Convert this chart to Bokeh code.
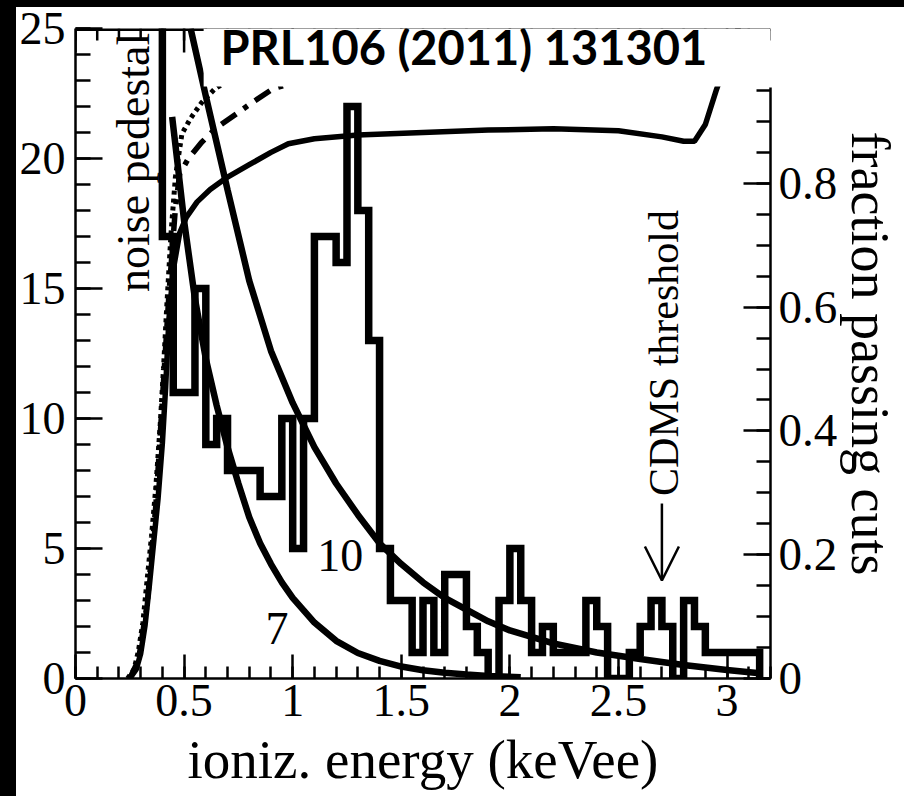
import math
from bokeh.plotting import figure
from bokeh.models import (Range1d, LinearAxis, FixedTicker, Label, Arrow, OpenHead,
                          BoxAnnotation, Div)
from bokeh.layouts import column, row
from bokeh.embed import file_html
from bokeh.resources import INLINE

# ---------------- data ----------------
# histogram of events, 0.05 keVee bins starting at 0.35 keVee
hist_start = 0.35
bin_width = 0.05
# first bin = noise pedestal (off scale)
counts = [40, 17, 11, 11, 15, 9, 10, 8, 8, 8, 7, 7, 10, 5, 10, 17, 17, 16, 22, 18, 13,
          5, 3, 3, 1, 3, 1, 4, 4, 2, 1, 0, 3, 5, 3, 1, 2, 1, 1, 1, 3, 2, 0, 0, 1, 2, 3,
          2, 0, 3, 2, 1, 1, 1, 1, 1]

# expected WIMP spectra (7 and 10 GeV) - left axis
c7_x = [0.445, 0.47, 0.50, 0.55, 0.60, 0.65, 0.70, 0.75, 0.80, 0.85, 0.90, 0.95, 1.00,
        1.10, 1.20, 1.30, 1.40, 1.50, 1.60, 1.70, 1.80, 1.90, 2.05]
c7_y = [21.6, 19.8, 17.6, 14.6, 12.3, 10.5, 8.9, 7.5, 6.2, 5.2, 4.4, 3.7, 3.1,
        2.15, 1.45, 0.98, 0.68, 0.46, 0.32, 0.22, 0.15, 0.1, 0.05]
c10_x = [0.53, 0.60, 0.70, 0.80, 0.90, 1.00, 1.10, 1.20, 1.30, 1.40, 1.50, 1.60, 1.70, 1.80,
         1.90, 2.00, 2.20, 2.40, 2.60, 2.80, 3.00, 3.15]
c10_y = [25.0, 22.4, 18.8, 15.3, 12.6, 10.6, 8.9, 7.5, 6.3, 5.2, 4.4, 3.7, 3.1, 2.65,
         2.2, 1.85, 1.35, 1.0, 0.75, 0.52, 0.33, 0.2]

# fraction passing cuts - right axis
frac_x = [0.25, 0.28, 0.30, 0.32, 0.34, 0.36, 0.38, 0.40, 0.415, 0.43, 0.45, 0.48, 0.51, 0.56,
          0.62, 0.70, 0.80, 0.90, 0.98, 1.10, 1.30, 1.60, 1.90, 2.20, 2.50, 2.70, 2.80, 2.85,
          2.90, 2.95, 3.00, 3.06]
frac_y = [0.0, 0.015, 0.04, 0.085, 0.15, 0.22, 0.29, 0.38, 0.47, 0.58, 0.66, 0.72, 0.745, 0.77,
          0.79, 0.81, 0.83, 0.85, 0.864, 0.872, 0.878, 0.882, 0.886, 0.888, 0.885, 0.875, 0.868,
          0.868, 0.895, 0.95, 1.0, 1.06]
dot_x = [0.24, 0.27, 0.29, 0.31, 0.33, 0.35, 0.37, 0.39, 0.405, 0.42, 0.44, 0.46, 0.49, 0.53,
         0.58, 0.64, 0.72, 0.80]
dot_y = [0.0, 0.015, 0.045, 0.09, 0.16, 0.23, 0.31, 0.41, 0.50, 0.60, 0.72, 0.81, 0.88, 0.905,
         0.93, 0.952, 0.97, 0.985]
dd_x = [0.25, 0.29, 0.33, 0.37, 0.40, 0.43, 0.46, 0.48, 0.52, 0.58, 0.65, 0.74, 0.82, 0.91,
        1.00, 1.20, 1.50]
dd_y = [0.0, 0.03, 0.12, 0.28, 0.45, 0.62, 0.76, 0.816, 0.84, 0.866, 0.89, 0.912, 0.932, 0.953,
        0.962, 0.97, 0.975]

# ticks
x_ticks = [0, 0.5, 1, 1.5, 2, 2.5, 3]
x_tick_labels = ["0", "0.5", "1", "1.5", "2", "2.5", "3"]
x_minor = [round(0.1 * i, 2) for i in range(33)]
y_ticks = [0, 5, 10, 15, 20, 25]
y_tick_labels = ["0", "5", "10", "15", "20", "25"]
f_ticks = [0, 0.2, 0.4, 0.6, 0.8]
f_tick_labels = ["0", "0.2", "0.4", "0.6", "0.8"]
f_minor = [round(0.05 * i, 2) for i in range(20)]

cdms_threshold = 2.70

SERIF = "Liberation Serif"

# ---------------- figure ----------------
p = figure(width=888, height=789, output_backend="svg", toolbar_location=None,
           x_range=Range1d(0, 3.2), y_range=Range1d(0, 25),
           min_border_left=57, min_border_right=134, min_border_top=21, min_border_bottom=118)
p.margin = 0
p.extra_y_ranges = {"frac": Range1d(0, 650 / 619)}
p.outline_line_color = None
p.xgrid.visible = False
p.ygrid.visible = False
p.background_fill_color = "white"
p.border_fill_color = "white"


def style_axis(ax, major_in, minor_in, size="46px", standoff=10):
    ax.axis_line_width = 2.5
    ax.axis_line_color = "black"
    ax.major_tick_in = major_in
    ax.major_tick_out = 0
    ax.minor_tick_in = minor_in
    ax.minor_tick_out = 0
    ax.major_tick_line_width = 2.5
    ax.minor_tick_line_width = 2.5
    ax.major_tick_line_color = "black"
    ax.minor_tick_line_color = "black"
    ax.major_label_text_font = SERIF
    ax.major_label_text_font_size = size
    ax.major_label_text_color = "black"
    ax.major_label_standoff = standoff
    ax.axis_label_text_font = SERIF
    ax.axis_label_text_font_style = "normal"
    ax.axis_label_text_color = "black"


xa = p.xaxis[0]
xa.ticker = FixedTicker(ticks=x_ticks, minor_ticks=x_minor)
xa.major_label_overrides = {float(t): s for t, s in zip(x_ticks, x_tick_labels)}
style_axis(xa, 24, 12, standoff=6)
xa.axis_label = "ioniz. energy (keVee)"
xa.axis_label_text_font_size = "55px"
xa.axis_label_standoff = 10

ya = p.yaxis[0]
ya.ticker = FixedTicker(ticks=y_ticks, minor_ticks=list(range(26)))
ya.major_label_overrides = {float(t): s for t, s in zip(y_ticks, y_tick_labels)}
style_axis(ya, 27, 15, standoff=10)

ra = LinearAxis(y_range_name="frac", bounds=(0, 0.955),
                ticker=FixedTicker(ticks=f_ticks, minor_ticks=f_minor))
ra.major_label_overrides = {float(t): s for t, s in zip(f_ticks, f_tick_labels)}
style_axis(ra, 27, 14, size="47px", standoff=8)
ra.axis_label = "fraction passing cuts"
ra.axis_label_text_font_size = "54px"
ra.axis_label_standoff = 0
p.add_layout(ra, "right")

# top frame edge with inward ticks (no labels)
p.segment(x0=[0], x1=[3.2], y0=[25], y1=[25], line_width=5, line_color="black")
top_major_len = 24 / 26
top_minor_len = 12 / 26
p.segment(x0=x_ticks, x1=x_ticks, y0=[25] * len(x_ticks),
          y1=[25 - top_major_len] * len(x_ticks), line_width=2.5, line_color="black")
p.segment(x0=x_minor, x1=x_minor, y0=[25] * len(x_minor),
          y1=[25 - top_minor_len] * len(x_minor), line_width=2.5, line_color="black")

# ---------------- curves ----------------
p.line(frac_x, frac_y, y_range_name="frac", line_width=5.5, line_color="black")
p.line(dot_x, dot_y, y_range_name="frac", line_width=5, line_color="black", line_dash="4 4")
p.line(dd_x, dd_y, y_range_name="frac", line_width=5.5, line_color="black", line_dash="18 9 5 9")
p.line(c7_x, c7_y, line_width=6.5, line_color="black")
p.line(c10_x, c10_y, line_width=6.5, line_color="black")

# histogram outline (steps)
hx, hy = [], []
for i, c in enumerate(counts):
    left = hist_start + i * bin_width
    right = left + bin_width
    if i == 0:
        hx.append(right)
        hy.append(c)
    else:
        hx += [left, right]
        hy += [c, c]
hx.append(hist_start + len(counts) * bin_width)
hy.append(0)
p.line(hx, hy, line_width=7.5, line_color="black", line_join="miter")

# ---------------- annotations ----------------
p.add_layout(Label(x=0.268, y=19.85, text="noise pedestal", angle=math.pi / 2,
                   text_font=SERIF, text_font_size="46px", text_align="center",
                   text_baseline="alphabetic", text_color="black"))
p.add_layout(Label(x=2.71, y=12.52, text="CDMS threshold", angle=math.pi / 2,
                   text_font=SERIF, text_font_size="42px", text_align="center",
                   text_baseline="alphabetic", text_color="black"))
p.add_layout(Label(x=1.219, y=4.75, text="10", text_font=SERIF, text_font_size="46px",
                   text_align="center", text_baseline="alphabetic", text_color="black"))
p.add_layout(Label(x=0.928, y=1.92, text="7", text_font=SERIF, text_font_size="46px",
                   text_align="center", text_baseline="alphabetic", text_color="black"))
p.add_layout(Arrow(x_start=cdms_threshold, y_start=6.73, x_end=cdms_threshold, y_end=3.77,
                   line_width=2.5, line_color="black",
                   end=OpenHead(size=34, line_width=2.5, line_color="black")))

# white title box (covers the top of the frame) and title
p.add_layout(BoxAnnotation(left=0.59, right=3.2, top=25, bottom=22.77,
                           fill_color="white", fill_alpha=1, line_color=None))
p.add_layout(Label(x=1.788, y=24.27, text="PRL106 (2011) 131301", text_font="Lato",
                   text_font_style="bold", text_font_size="47px", text_align="center",
                   text_baseline="alphabetic", text_color="black"))

# black scan borders
top_strip = Div(text="", width=904, height=7, margin=0, styles={"background-color": "black"})
left_strip = Div(text="", width=16, height=789, margin=0, styles={"background-color": "black"})
layout = column(top_strip, row(left_strip, p, spacing=0, margin=0), spacing=0, margin=0)

open("out.html", "w").write(file_html(layout, INLINE))
